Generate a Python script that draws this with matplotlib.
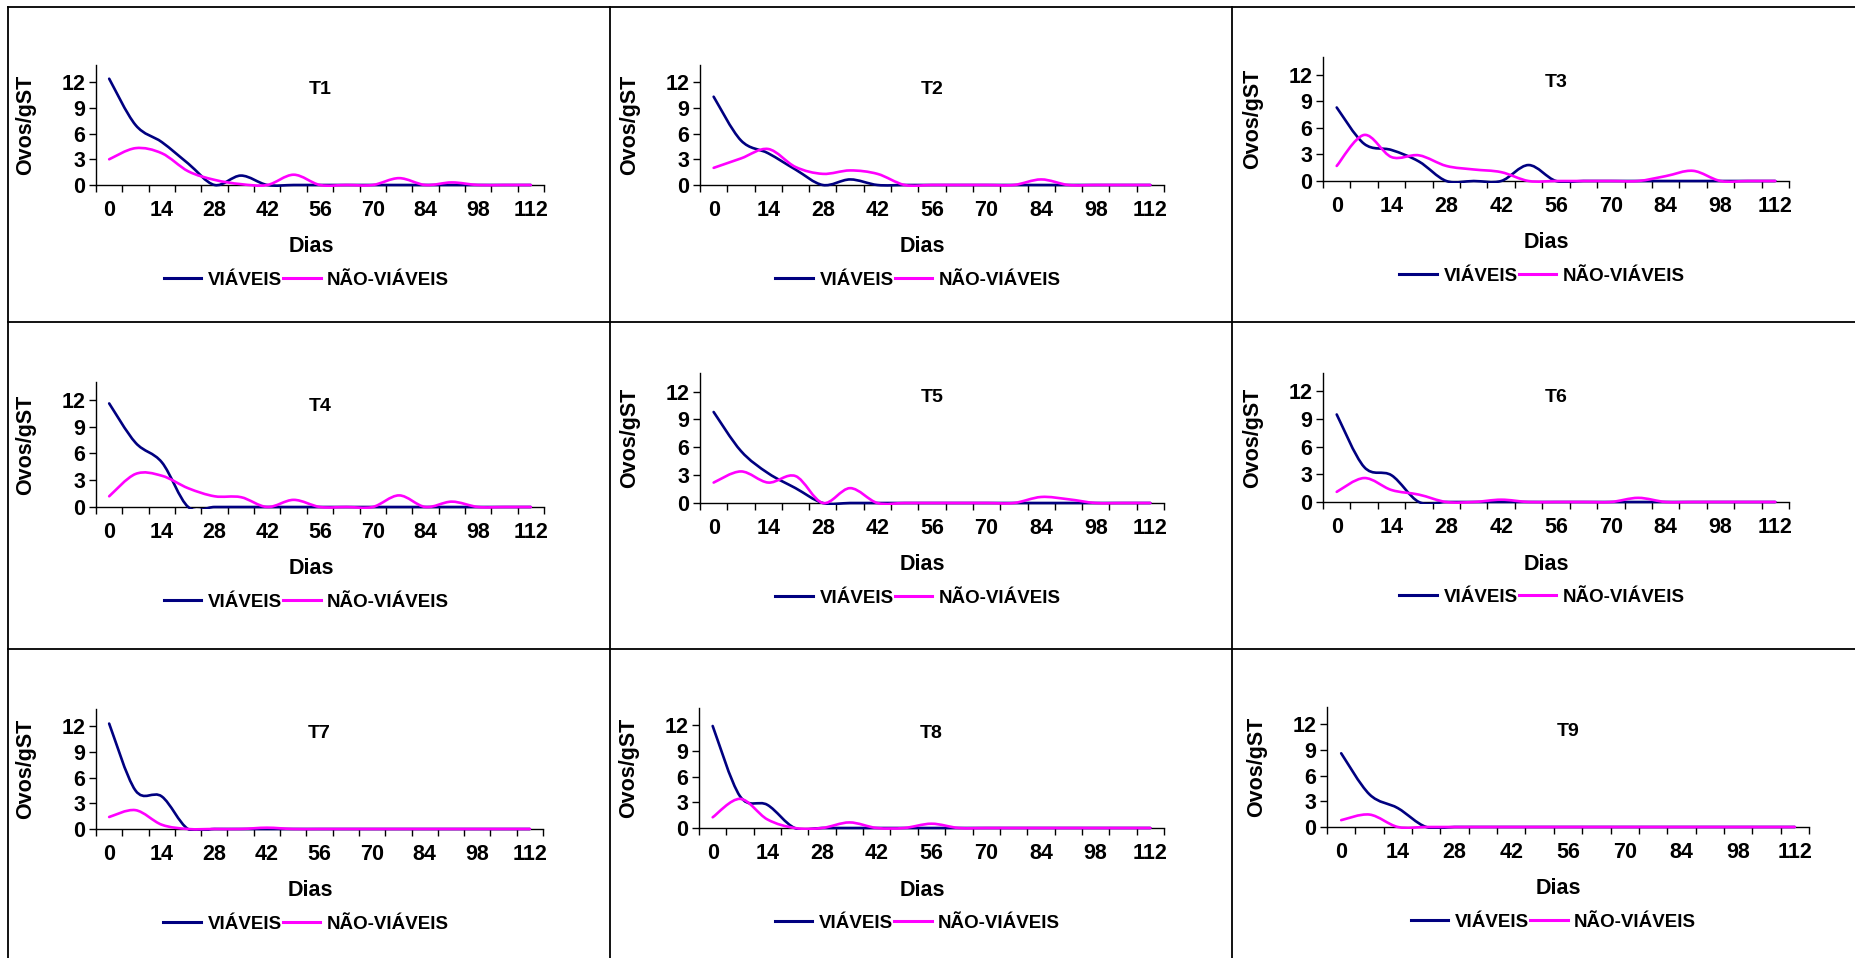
import matplotlib.pyplot as plt
import numpy as np
from matplotlib.lines import Line2D
from matplotlib.patches import PathPatch, Rectangle
from matplotlib.path import Path

plt.rcParams['font.family'] = ['Liberation Sans', 'DejaVu Sans']
plt.rcParams['font.weight'] = 'bold'

# data
days = [0, 7, 14, 21, 28, 35, 42, 49, 56, 63, 70, 77, 84, 91, 98, 105, 112]
treatments = ['T1', 'T2', 'T3', 'T4', 'T5', 'T6', 'T7', 'T8', 'T9']
series_names = ['VIÁVEIS', 'NÃO-VIÁVEIS']

t1_viaveis = [12.4, 7.0, 5.0, 2.5, 0, 1.1, 0, 0, 0, 0, 0, 0, 0, 0, 0, 0, 0]
t1_nao_viaveis = [3.0, 4.3, 3.7, 1.6, 0.6, 0.1, 0, 1.2, 0, 0, 0, 0.8, 0, 0.3, 0, 0, 0]
t2_viaveis = [10.3, 5.2, 3.7, 1.8, 0, 0.65, 0, 0, 0, 0, 0, 0, 0, 0, 0, 0, 0]
t2_nao_viaveis = [2.0, 3.1, 4.2, 2.1, 1.3, 1.7, 1.3, 0, 0, 0, 0, 0, 0.65, 0, 0, 0, 0]
t3_viaveis = [8.3, 4.2, 3.5, 2.2, 0, 0, 0, 1.8, 0, 0, 0, 0, 0, 0, 0, 0, 0]
t3_nao_viaveis = [1.7, 5.2, 2.7, 2.9, 1.7, 1.3, 1.0, 0, 0, 0, 0, 0, 0.55, 1.15, 0, 0, 0]
t4_viaveis = [11.6, 7.2, 5.0, 0, 0, 0, 0, 0, 0, 0, 0, 0, 0, 0, 0, 0, 0]
t4_nao_viaveis = [1.2, 3.7, 3.5, 2.1, 1.2, 1.1, 0, 0.8, 0, 0, 0, 1.3, 0, 0.6, 0, 0, 0]
t5_viaveis = [9.8, 5.6, 3.2, 1.6, 0, 0, 0, 0, 0, 0, 0, 0, 0, 0, 0, 0, 0]
t5_nao_viaveis = [2.2, 3.4, 2.2, 2.9, 0, 1.6, 0, 0, 0, 0, 0, 0, 0.65, 0.4, 0, 0, 0]
t6_viaveis = [9.5, 3.8, 2.9, 0, 0, 0, 0, 0, 0, 0, 0, 0, 0, 0, 0, 0, 0]
t6_nao_viaveis = [1.1, 2.6, 1.3, 0.8, 0, 0, 0.25, 0, 0, 0, 0, 0.45, 0, 0, 0, 0, 0]
t7_viaveis = [12.3, 4.5, 3.8, 0, 0, 0, 0, 0, 0, 0, 0, 0, 0, 0, 0, 0, 0]
t7_nao_viaveis = [1.4, 2.2, 0.5, 0, 0, 0, 0.15, 0, 0, 0, 0, 0, 0, 0, 0, 0, 0]
t8_viaveis = [11.9, 3.7, 2.7, 0, 0, 0, 0, 0, 0, 0, 0, 0, 0, 0, 0, 0, 0]
t8_nao_viaveis = [1.25, 3.4, 1.0, 0, 0, 0.65, 0, 0, 0.5, 0, 0, 0, 0, 0, 0, 0, 0]
t9_viaveis = [8.6, 3.8, 2.2, 0, 0, 0, 0, 0, 0, 0, 0, 0, 0, 0, 0, 0, 0]
t9_nao_viaveis = [0.8, 1.45, 0, 0, 0, 0, 0, 0, 0, 0, 0, 0, 0, 0, 0, 0, 0]

viaveis = [t1_viaveis, t2_viaveis, t3_viaveis, t4_viaveis, t5_viaveis,
           t6_viaveis, t7_viaveis, t8_viaveis, t9_viaveis]
nao_viaveis = [t1_nao_viaveis, t2_nao_viaveis, t3_nao_viaveis, t4_nao_viaveis, t5_nao_viaveis,
               t6_nao_viaveis, t7_nao_viaveis, t8_nao_viaveis, t9_nao_viaveis]

# layout in pixels (left, top, right, bottom) of each plot area
W, H = 1856, 958
boxes = [
    (96, 65, 544, 185), (700, 65, 1164, 185), (1323, 57, 1789, 181),
    (96, 382, 544, 507), (700, 373, 1164, 503), (1323, 373, 1789, 502),
    (96, 709, 543, 829), (699, 708, 1164, 828), (1327, 707, 1809, 827),
]
NAVY = '#000080'
MAGENTA = '#ff00ff'
LW = 1.9
FS = 15.5


def smooth_path(x, y):
    # excel-like smoothed line: cubic bezier through the points
    pts = np.column_stack([x, y]).astype(float)
    n = len(pts)
    verts = [pts[0]]
    codes = [Path.MOVETO]
    for i in range(n - 1):
        p0 = pts[i - 1] if i > 0 else pts[i]
        p1, p2 = pts[i], pts[i + 1]
        p3 = pts[i + 2] if i + 2 < n else pts[i + 1]
        verts += [p1 + (p2 - p0) / 6, p2 - (p3 - p1) / 6, p2]
        codes += [Path.CURVE4] * 3
    return Path(verts, codes)


fig = plt.figure(figsize=(W / 100, H / 100), dpi=100)

idx = np.arange(len(days))
for k, (l, t, r, b) in enumerate(boxes):
    ax = fig.add_axes([l / W, 1 - b / H, (r - l) / W, (b - t) / H])
    aw, ah = r - l, b - t
    ax.set_xlim(-0.5, len(days) - 0.5)
    ax.set_ylim(0, 14)
    clip = Rectangle((-0.5, -0.2), len(days), 14.2, transform=ax.transData)
    for vals, col in [(viaveis[k], NAVY), (nao_viaveis[k], MAGENTA)]:
        patch = PathPatch(smooth_path(idx, vals), fill=False, edgecolor=col,
                          lw=LW, zorder=3, capstyle='round', joinstyle='round')
        ax.add_patch(patch)
        patch.set_clip_path(clip)

    for s in ['top', 'right']:
        ax.spines[s].set_visible(False)
    for s in ['left', 'bottom']:
        ax.spines[s].set_linewidth(1.0)
        ax.spines[s].set_color('black')

    ax.set_yticks([0, 3, 6, 9, 12])
    ax.set_xticks(np.arange(-0.5, len(days), 1))
    ax.set_xticklabels([])
    ax.set_xticks(idx[::2], minor=True)
    ax.set_xticklabels([str(d) for d in days[::2]], minor=True)
    ax.tick_params(axis='both', which='major', direction='out', length=5, width=1,
                   labelsize=FS, pad=2.5)
    ax.tick_params(axis='x', which='minor', length=0, labelsize=FS, pad=11)

    ax.set_ylabel('Ovos/gST', fontsize=FS, fontweight='bold')
    ax.yaxis.set_label_coords(-60 / aw, 0.5)
    ax.text(0.5, (b - (t + 25)) / ah, treatments[k], transform=ax.transAxes,
            ha='center', va='center', fontsize=14, fontweight='bold')
    ax.text(0.48, -62 / ah, 'Dias', transform=ax.transAxes, ha='center', va='center',
            fontsize=FS, fontweight='bold')

    handles = [Line2D([], [], color=NAVY, lw=2.2), Line2D([], [], color=MAGENTA, lw=2.2)]
    ax.legend(handles, series_names, loc='center', bbox_to_anchor=(0.47, -95 / ah),
              ncol=2, frameon=False, fontsize=13.5, handlelength=2.0,
              handletextpad=0.35, columnspacing=0.05, borderaxespad=0, borderpad=0)

# table borders round the panels
col_x = [8, 610, 1232]
row_y = [7, 322, 649]
for x in col_x:
    fig.add_artist(Line2D([x / W, x / W], [1 - 7 / H, 0], transform=fig.transFigure,
                          color='black', lw=1.3))
for y in row_y:
    fig.add_artist(Line2D([8 / W, 1], [1 - y / H, 1 - y / H], transform=fig.transFigure,
                          color='black', lw=1.3))

fig.savefig('out.png', dpi=100)
